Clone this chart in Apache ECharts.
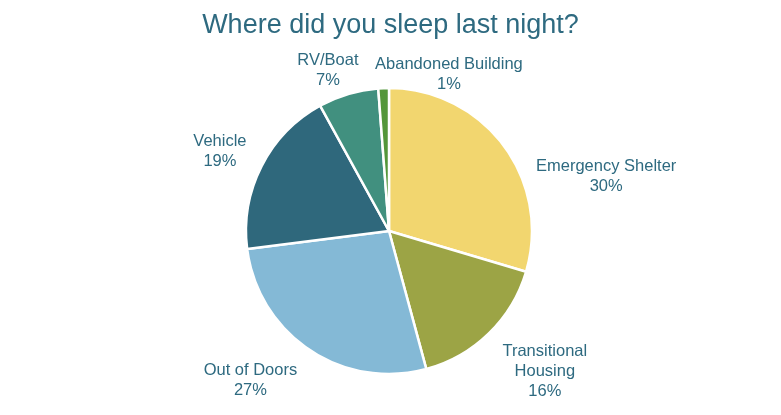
<!DOCTYPE html>
<html>
<head>
<meta charset="utf-8">
<script src="https://cdn.jsdelivr.net/npm/echarts@6/dist/echarts.min.js"></script>
<style>
    html, body { margin: 0; padding: 0; background: #fff; }
    #chart { width: 781px; height: 415px; }
</style>
</head>
<body>
<div id="chart"></div>
<script>
// 各类住宿情况
var categories = ['Emergency Shelter', 'Transitional Housing', 'Out of Doors', 'Vehicle', 'RV/Boat', 'Abandoned Building'];
var labelNames = ['Emergency Shelter', 'Transitional\nHousing', 'Out of Doors', 'Vehicle', 'RV/Boat', 'Abandoned Building'];
var shares = [29.6, 16.2, 27.2, 19.0, 6.8, 1.2];
var colors = ['#F2D66F', '#9CA445', '#84B9D6', '#2F687C', '#41907F', '#53963A'];

// 标签位置（角度：自正上方顺时针，单位度；距离：到圆心像素）
var labelAngles = [75.8, 132.1, 222.8, 295.3, 339.2, 20.9];
var labelDists = [224, 210, 204, 187, 172, 168];

var textColor = '#2E6A80';
var pieCenter = [389, 231];
var chart = echarts.init(document.getElementById('chart'));

var pieData = [];
for (var i = 0; i < categories.length; i++) {
    pieData.push({
        name: categories[i],
        value: shares[i],
        itemStyle: { color: colors[i] },
        label: { formatter: labelNames[i] + '\n{d}%' }
    });
}

function placeLabel(params) {
    var idx = params.dataIndex;
    var a = labelAngles[idx] * Math.PI / 180;
    return {
        x: pieCenter[0] + Math.sin(a) * labelDists[idx],
        y: pieCenter[1] - Math.cos(a) * labelDists[idx],
        align: 'center',
        verticalAlign: 'middle'
    };
}

var option = {
    backgroundColor: '#fff',
    title: {
        text: 'Where did you sleep last night?',
        left: 'center',
        top: 7,
        textStyle: {
            color: textColor,
            fontFamily: 'Liberation Sans',
            fontSize: 27,
            fontWeight: 'normal'
        }
    },
    series: [{
        type: 'pie',
        center: pieCenter,
        radius: 143,
        startAngle: 90,
        clockwise: true,
        percentPrecision: 0,
        data: pieData,
        itemStyle: { borderColor: '#fff', borderWidth: 2.5 },
        label: {
            show: true,
            position: 'outside',
            color: textColor,
            fontFamily: 'Liberation Sans',
            fontSize: 16.5,
            lineHeight: 20,
            align: 'center'
        },
        labelLine: { show: false },
        labelLayout: placeLabel,
        emphasis: { disabled: true },
        animation: false
    }]
};
chart.setOption(option);
</script>
</body>
</html>
